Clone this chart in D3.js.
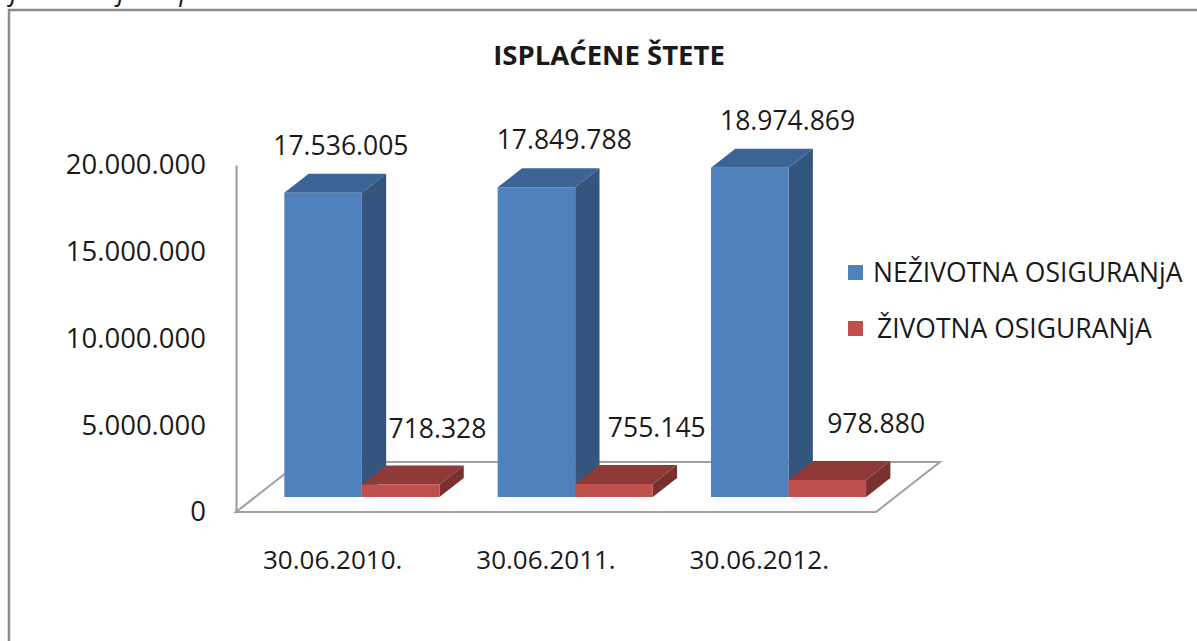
<!DOCTYPE html>
<html>
<head>
<meta charset="utf-8">
<script src="https://cdn.jsdelivr.net/npm/d3@7"></script>
<style>
  body { margin: 0; background: #fff; }
  text { font-family: "Open Sans", "Noto Sans", sans-serif; fill: #1a1a1a; }
</style>
</head>
<body>
<script>
// data
const categories = ["30.06.2010.", "30.06.2011.", "30.06.2012."];
const seriesNames = ["NEŽIVOTNA OSIGURANjA", "ŽIVOTNA OSIGURANjA"];
const nezivotna = [17536005, 17849788, 18974869];
const zivotna = [718328, 755145, 978880];
const yTicks = [0, 5000000, 10000000, 15000000, 20000000];

const W = 1197, H = 641;
// 3d box: front plane and the depth vector
const plotLeft = 236, plotRight = 876, plotBottom = 512, plotTop = 165;
const DX = 64, DY = -50;
const zFront = 0.3, zBack = 0.68;

const colors = [
  {front: "#4f81bd", top: "#3c6494", side: "#34557e"},
  {front: "#c0504d", top: "#8f3a38", side: "#79302e"}
];

const loc = d3.formatLocale({decimal: ",", thousands: ".", grouping: [3], currency: ["", ""]});
const fmt = loc.format(",d");

const svg = d3.select("body").append("svg")
  .attr("width", W).attr("height", H);

svg.append("rect").attr("width", W).attr("height", H).attr("fill", "#fff");

// caption line of the page, mostly above the crop
svg.append("text")
  .attr("x", -34).attr("y", 0)
  .attr("font-size", 27).attr("font-style", "italic")
  .text("Grafikon broj 5: Isplaćene štete");

// outer frame
svg.append("path")
  .attr("d", "M9," + H + "V10H" + W)
  .attr("fill", "none").attr("stroke", "#8c8c8c").attr("stroke-width", 2.5);

svg.append("text")
  .attr("x", 609).attr("y", 65)
  .attr("text-anchor", "middle")
  .attr("font-size", 27.5).attr("font-weight", "bold")
  .text("ISPLAĆENE ŠTETE");

const x = d3.scaleBand().domain(categories).range([plotLeft, plotRight])
  .paddingInner(0.273).paddingOuter(0.1365);
const xs = d3.scaleBand().domain([0, 1]).range([0, x.bandwidth()]);
const y = d3.scaleLinear().domain([0, 20000000]).range([plotBottom, plotTop]);

function P(px, v, z) {
  return [px + z * DX, y(v) + z * DY];
}

// floor
const floor = [P(plotLeft, 0, 0), P(plotRight, 0, 0), P(plotRight, 0, 1), P(plotLeft, 0, 1)];
svg.append("polygon")
  .attr("points", floor.map(p => p.join(",")).join(" "))
  .attr("fill", "#fff").attr("stroke", "#a0a0a0").attr("stroke-width", 2);

// value axis
const yAxis = d3.axisLeft(y).tickValues(yTicks).tickFormat(fmt)
  .tickSize(0).tickSizeOuter(0).tickPadding(30);
const ga = svg.append("g").attr("transform", "translate(" + plotLeft + ",0)").call(yAxis);
ga.select(".domain").attr("stroke", "#999").attr("stroke-width", 2);
ga.selectAll("text").attr("font-size", 27.5).attr("font-family", null).attr("fill", "#1a1a1a");

// category labels
svg.selectAll("text.cat")
  .data(categories)
  .enter()
  .append("text")
  .attr("class", "cat")
  .attr("x", d => x(d) + x.bandwidth() / 2 - 10)
  .attr("y", 569)
  .attr("text-anchor", "middle")
  .attr("font-size", 26)
  .text(d => d);

// bars
const bars = [];
categories.forEach((c, i) => {
  [nezivotna[i], zivotna[i]].forEach((v, s) => {
    bars.push({i: i, s: s, v: v, x0: x(c) + xs(s), x1: x(c) + xs(s) + xs.bandwidth()});
  });
});

const pts = a => a.map(p => p.join(",")).join(" ");

const gb = svg.selectAll("g.bar")
  .data(bars)
  .enter()
  .append("g")
  .attr("class", "bar");

gb.append("polygon")
  .attr("points", d => pts([P(d.x1, d.v, zFront), P(d.x1, 0, zFront), P(d.x1, 0, zBack), P(d.x1, d.v, zBack)]))
  .attr("fill", d => colors[d.s].side);
gb.append("polygon")
  .attr("points", d => pts([P(d.x0, d.v, zFront), P(d.x1, d.v, zFront), P(d.x1, d.v, zBack), P(d.x0, d.v, zBack)]))
  .attr("fill", d => colors[d.s].top);
gb.append("polygon")
  .attr("points", d => pts([P(d.x0, d.v, zFront), P(d.x1, d.v, zFront), P(d.x1, 0, zFront), P(d.x0, 0, zFront)]))
  .attr("fill", d => colors[d.s].front);

// value labels (excel drifts them right a little per category)
const labOffX = [37, 56], labStep = [10, 6], labOffY = [-53, -62];
svg.selectAll("text.val")
  .data(bars)
  .enter()
  .append("text")
  .attr("class", "val")
  .attr("x", d => (d.x0 + d.x1) / 2 + labOffX[d.s] + d.i * labStep[d.s])
  .attr("y", d => y(d.v) + labOffY[d.s])
  .attr("text-anchor", "middle")
  .attr("font-size", 26.5)
  .text(d => fmt(d.v));

// legend
const lg = svg.selectAll("g.leg")
  .data(seriesNames)
  .enter()
  .append("g")
  .attr("class", "leg")
  .attr("transform", (d, i) => "translate(848," + (265 + i * 56) + ")");
lg.append("rect").attr("width", 15).attr("height", 15)
  .attr("fill", (d, i) => colors[i].front);
lg.append("text")
  .attr("x", (d, i) => 25 + i * 4).attr("y", 17)
  .attr("font-size", 26.5)
  .text(d => d);
</script>
</body>
</html>
